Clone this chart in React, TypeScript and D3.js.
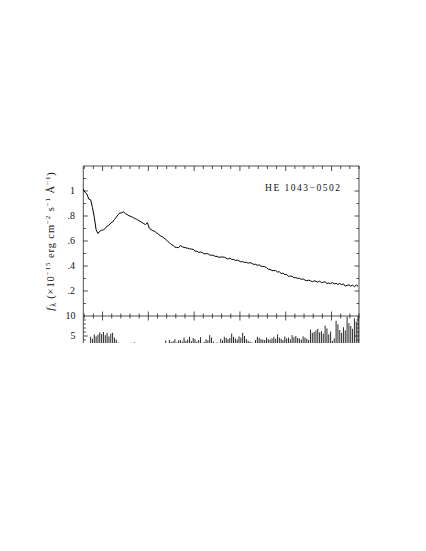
import * as d3 from 'd3';

const W = 426;
const H = 551;

// spectrum sampled every 20 Å starting at 3290 Å
const WAVE_START = 3290;
const WAVE_STEP = 20;
const FLUX = [
  1.015, 0.988, 0.975, 0.935, 0.93, 0.868, 0.79, 0.69, 0.66, 0.678,
  0.686, 0.69, 0.701, 0.719, 0.727, 0.743, 0.752, 0.772, 0.79, 0.812,
  0.824, 0.826, 0.834, 0.818, 0.811, 0.801, 0.797, 0.789, 0.781, 0.774,
  0.766, 0.758, 0.748, 0.739, 0.731, 0.747, 0.703, 0.692, 0.682, 0.677,
  0.665, 0.657, 0.641, 0.635, 0.624, 0.613, 0.599, 0.587, 0.572, 0.565,
  0.551, 0.548, 0.547, 0.564, 0.554, 0.549, 0.545, 0.543, 0.537, 0.536,
  0.533, 0.519, 0.518, 0.509, 0.512, 0.507, 0.498, 0.498, 0.499, 0.488,
  0.486, 0.486, 0.477, 0.478, 0.469, 0.472, 0.472, 0.47, 0.463, 0.455,
  0.464, 0.452, 0.453, 0.445, 0.447, 0.441, 0.433, 0.436, 0.428, 0.43,
  0.423, 0.427, 0.421, 0.413, 0.414, 0.406, 0.409, 0.398, 0.397, 0.395,
  0.388, 0.374, 0.373, 0.364, 0.363, 0.364, 0.352, 0.354, 0.34, 0.343,
  0.331, 0.332, 0.318, 0.319, 0.318, 0.306, 0.307, 0.301, 0.302, 0.293,
  0.297, 0.287, 0.282, 0.287, 0.282, 0.274, 0.281, 0.278, 0.271, 0.279,
  0.267, 0.271, 0.273, 0.26, 0.264, 0.259, 0.267, 0.257, 0.262, 0.252,
  0.261, 0.25, 0.257, 0.239, 0.244, 0.25, 0.239, 0.247, 0.234, 0.248,
  0.238,
];

// lower panel, same 20 Å sampling
const RESID = [
  2.0, 2.6, 3.1, 2.4, 4.8, 4.3, 5.4, 4.9, 5.3, 5.9,
  5.5, 6.0, 5.2, 5.8, 4.9, 5.6, 5.8, 4.6, 4.1, 3.4,
  2.8, 3.1, 2.5, 2.7, 2.9, 2.4, 3.3, 2.6, 3.4, 2.8,
  2.6, 2.9, 2.4, 2.8, 3.0, 2.7, 3.1, 2.6, 2.9, 3.0,
  2.8, 3.1, 2.9, 3.0, 3.2, 3.9, 3.1, 4.0, 3.5, 3.7,
  4.2, 3.4, 3.9, 4.0, 3.6, 4.6, 3.8, 4.1, 4.8, 3.7,
  4.5, 4.2, 3.6, 4.0, 4.7, 3.3, 3.5, 4.2, 3.9, 5.2,
  4.6, 3.6, 3.2, 3.4, 3.3, 4.3, 3.9, 4.8, 4.5, 4.2,
  4.5, 5.6, 4.8, 4.4, 4.1, 4.9, 4.6, 5.8, 5.0, 4.2,
  3.8, 3.6, 3.4, 3.3, 4.0, 4.8, 4.5, 4.2, 4.1, 4.0,
  4.6, 4.2, 4.1, 4.4, 4.8, 4.3, 5.4, 4.6, 4.3, 4.0,
  4.9, 4.4, 4.6, 4.2, 5.2, 4.7, 5.0, 4.5, 4.4, 4.1,
  4.9, 4.6, 4.3, 4.0, 6.6, 5.8, 6.0, 6.4, 6.8, 5.9,
  6.2, 5.6, 7.6, 6.9, 5.4, 6.1, 3.8, 4.4, 8.8, 7.9,
  6.5, 5.8, 7.2, 6.4, 9.8, 8.2, 7.5, 6.8, 9.4, 8.6,
  10,
];

const FLUX_LABELS = ['.2', '.4', '.6', '.8', '1'];
const FLUX_MAJOR = [0.2, 0.4, 0.6, 0.8, 1.0];
const RES_LABELS = ['5', '10'];
const RES_MAJOR = [5, 10];

export default function App() {
  const x = d3.scaleLinear().domain([3290, 6300]).range([83.3, 359]);
  const yTop = d3.scaleLinear().domain([0, 1.2]).range([316, 166]);
  const yBot = d3.scaleLinear().domain([0, 10]).range([356, 316]);

  const wave = (i: number) => WAVE_START + i * WAVE_STEP;
  const specLine = d3
    .line<number>()
    .x((_, i) => x(wave(i)))
    .y((d) => yTop(d));

  const xTicks = d3.range(3300, 6301, 100);
  const isMajorX = (v: number) => v % 500 === 0;
  const fluxTicks = d3.range(1, 12).map((k) => k / 10);
  const resTicks = d3.range(1, 10);

  const [left, right] = x.range();
  const top = yTop.range()[1];
  const mid = yTop.range()[0];
  const clipBottom = 343;
  const ink = '#222';

  return (
    <svg
      width={W}
      height={H}
      style={{ position: 'absolute', left: 0, top: 0, background: '#fff' }}
      fontFamily="'Liberation Serif', serif"
    >
      <defs>
        <clipPath id="page">
          <rect x={0} y={0} width={W} height={clipBottom} />
        </clipPath>
        <clipPath id="lower">
          <rect x={left} y={mid} width={right - left} height={clipBottom - mid} />
        </clipPath>
      </defs>

      <g clipPath="url(#page)" stroke={ink} strokeWidth={0.8} fill="none">
        {/* frame */}
        <line x1={left} x2={right} y1={top} y2={top} />
        <line x1={left} x2={right} y1={mid} y2={mid} />
        <line x1={left} x2={left} y1={top} y2={H} />
        <line x1={right} x2={right} y1={top} y2={H} />

        {/* x ticks on top edge and on the panel separator */}
        {xTicks.map((v) => {
          const len = isMajorX(v) ? 4.5 : 2.5;
          return (
            <g key={v}>
              <line x1={x(v)} x2={x(v)} y1={top} y2={top + len + 0.5} />
              <line x1={x(v)} x2={x(v)} y1={mid - len} y2={mid + len} />
            </g>
          );
        })}

        {/* flux ticks */}
        {fluxTicks.map((v) => {
          const len = Math.round(v * 10) % 2 === 0 ? 4.5 : 2.5;
          return (
            <g key={v}>
              <line x1={left} x2={left + len} y1={yTop(v)} y2={yTop(v)} />
              <line x1={right - len} x2={right} y1={yTop(v)} y2={yTop(v)} />
            </g>
          );
        })}

        {/* lower panel ticks */}
        {resTicks.map((v) => {
          const len = v === 5 ? 4.5 : 2.5;
          return (
            <g key={v}>
              <line x1={left} x2={left + len} y1={yBot(v)} y2={yBot(v)} />
              <line x1={right - len} x2={right} y1={yBot(v)} y2={yBot(v)} />
            </g>
          );
        })}

        {/* spectrum */}
        <path d={specLine(FLUX) ?? ''} stroke="#000" strokeWidth={1} strokeLinejoin="round" />

        {/* lower panel spikes */}
        <g clipPath="url(#lower)" stroke="#111" strokeWidth={0.9}>
          {RESID.map((v, i) => {
            const xx = x(wave(i));
            return <line key={i} x1={xx} x2={xx} y1={yBot(0)} y2={yBot(v)} />;
          })}
        </g>
      </g>

      <g clipPath="url(#page)" fill="#111" fontSize={10} textAnchor="end">
        {FLUX_MAJOR.map((v, i) => (
          <text key={v} x={75} y={yTop(v) + 3.4}>
            {FLUX_LABELS[i]}
          </text>
        ))}
        {RES_MAJOR.map((v, i) => (
          <text key={v} x={75.5} y={yBot(v) + 3.4}>
            {RES_LABELS[i]}
          </text>
        ))}
      </g>

      <text
        x={265}
        y={191}
        fontSize={9.5}
        textLength={75}
        lengthAdjust="spacing"
        fill="#111"
      >
        HE 1043−0502
      </text>

      <text
        transform="translate(54,241) rotate(-90)"
        textAnchor="middle"
        fontSize={10.5}
        letterSpacing={0.9}
        fill="#111"
      >
        <tspan fontStyle="italic">f</tspan>
        <tspan fontSize={7.5} dy={2}>λ</tspan>
        <tspan dy={-2}> (×10</tspan>
        <tspan fontSize={7} dy={-4.5}>−15</tspan>
        <tspan dy={4.5}> erg cm</tspan>
        <tspan fontSize={7} dy={-4.5}>−2</tspan>
        <tspan dy={4.5}> s</tspan>
        <tspan fontSize={7} dy={-4.5}>−1</tspan>
        <tspan dy={4.5}> Å</tspan>
        <tspan fontSize={7} dy={-4.5}>−1</tspan>
        <tspan dy={4.5}>)</tspan>
      </text>
    </svg>
  );
}
